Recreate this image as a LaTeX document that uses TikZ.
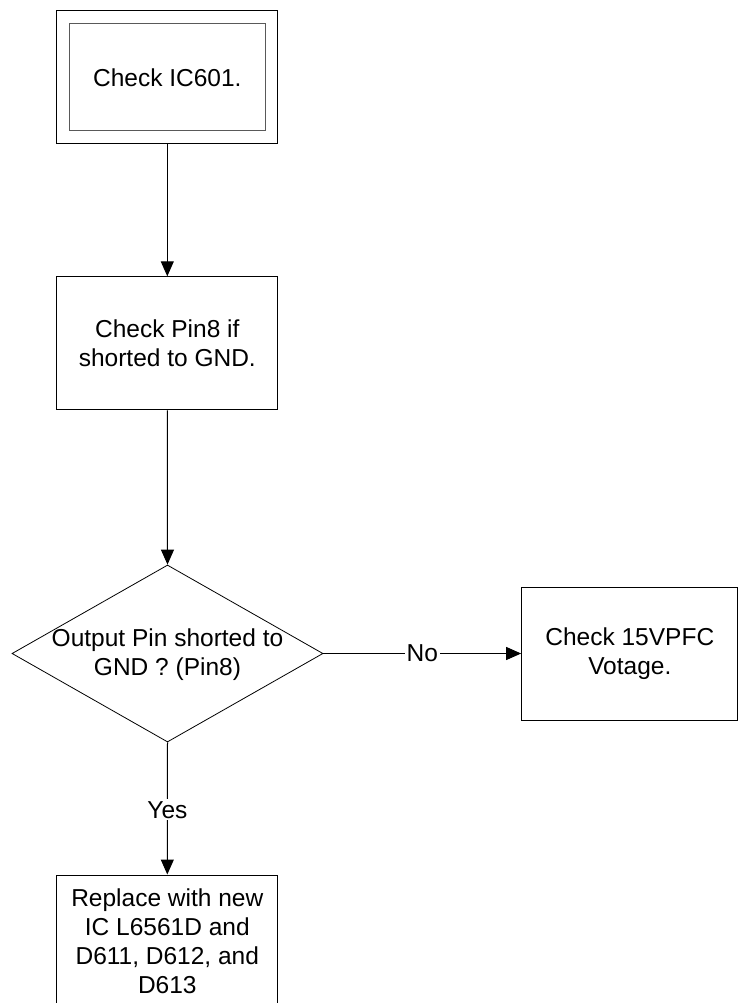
\documentclass[tikz,border=0pt]{standalone}
\usepackage{fontspec}
\setmainfont{Liberation Sans}
\usetikzlibrary{shapes.geometric,arrows.meta}
\begin{document}
\begin{tikzpicture}[x=1pt,y=-1pt,
  every node/.style={font=\fontsize{24.5}{29}\selectfont},
  box/.style={draw=black, line width=1pt, minimum width=221.3pt, minimum height=133pt, align=center, inner sep=0pt},
  innerbox/.style={draw=black!65, line width=1pt, minimum width=196.4pt, minimum height=107pt, align=center, inner sep=0pt},
  dec/.style={draw=black, line width=0.8pt, diamond, minimum width=311pt, minimum height=177pt, inner sep=0pt},
  conn/.style={draw=black, line width=1pt, -{Triangle[length=15pt,width=13pt]}},
  lbl/.style={fill=white, inner sep=2pt}
]
\useasboundingbox (0,0) rectangle (739,1003);
\node[box] (b1) at (167.3,77.5) {};
\node[innerbox] (b1in) at (b1.center) {Check IC601.};
\node[box] (b2) at (167.3,343.3) {Check Pin8 if\\shorted to GND.};
\node[dec] (d) at (167.5,653.5) {};
\node[align=center, inner sep=0pt] (dtext) at (167.5,655) {Output Pin shorted to\\GND ? (Pin8)};
\node[box, minimum width=216.3pt] (b3) at (629.8,653.5) {Check 15VPFC\\Votage.};
\node[box, minimum height=133pt] (b4) at (167.3,941.5) {Replace with new\\IC L6561D and\\D611, D612, and\\D613};
\draw[conn] (b1.south) -- (b2.north);
\draw[conn] (b2.south) -- (d.north);
\draw[conn] (d.east) -- node[lbl, pos=0.5] (no) {No} (b3.west);
\draw[conn] (d.south) -- node[lbl, pos=0.51] (yes) {Yes} (b4.north);
\end{tikzpicture}
\end{document}
